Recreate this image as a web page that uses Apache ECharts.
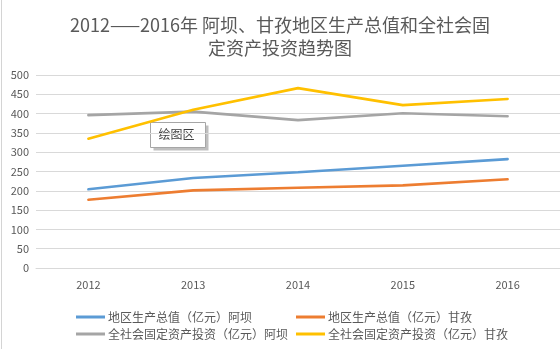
<!DOCTYPE html>
<html><head><meta charset="utf-8">
<script src="https://cdn.jsdelivr.net/npm/echarts@6/dist/echarts.min.js"></script>
<style>html,body{margin:0;padding:0;background:#fff}#c{width:560px;height:349px}</style>
</head><body><div id="c"></div>
<script>
var years = ['2012','2013','2014','2015','2016'];
var gdpAba = [204, 233, 248, 265, 282];
var gdpGanzi = [177, 201, 208, 214, 230];
var invAba = [396, 405, 383, 401, 393];
var invGanzi = [335, 410, 466, 422, 438];
var names = ['地区生产总值（亿元）阿坝','地区生产总值（亿元）甘孜','全社会固定资产投资（亿元）阿坝','全社会固定资产投资（亿元）甘孜'];
var colors = ['#5b9bd5','#ed7d31','#a5a5a5','#ffc000'];
var FONT = '"Noto Sans CJK SC", sans-serif';
var chart = echarts.init(document.getElementById('c'), null, {renderer:'canvas'});
function mk(i, d){
  return {name:names[i], type:'line', data:d, symbol:'none', smooth:false,
    lineStyle:{width:2.6, color:colors[i], cap:'round'}, itemStyle:{color:colors[i]}};
}
var legendCommon = {orient:'vertical', itemWidth:29, itemHeight:3, itemGap:5, icon:'rect',
  textStyle:{color:'#595959', fontSize:12, fontFamily:FONT, padding:[0,0,0,-2]}};
chart.setOption({
  animation:false,
  title:{text:'2012——2016年 阿坝、甘孜地区生产总值和全社会固\n定资产投资趋势图', left:'center', top:9,
    textStyle:{color:'#595959', fontSize:18, fontWeight:'normal', fontFamily:FONT, lineHeight:23}},
  grid:{left:36, right:0, top:75, bottom:81},
  legend:[
    Object.assign({data:[names[0],names[2]], left:71, top:306}, legendCommon),
    Object.assign({data:[names[1],names[3]], left:291, top:306}, legendCommon)
  ],
  xAxis:{type:'category', data:years, boundaryGap:true,
    axisLine:{show:true, lineStyle:{color:'#d9d9d9'}}, axisTick:{show:false},
    axisLabel:{color:'#595959', fontSize:11, margin:11, fontFamily:FONT}},
  yAxis:{type:'value', min:0, max:500, interval:50,
    axisLine:{show:false}, axisTick:{show:false},
    axisLabel:{color:'#595959', fontSize:11, margin:7, fontFamily:FONT},
    splitLine:{lineStyle:{color:'#d9d9d9', width:1}}},
  series:[mk(0,gdpAba), mk(1,gdpGanzi), mk(2,invAba), mk(3,invGanzi)],
  graphic:[
    {type:'line', shape:{x1:1.5,y1:0,x2:1.5,y2:349}, style:{stroke:'#d4d4d4', lineWidth:1}, silent:true},
    {type:'group', left:150, top:122, children:[
      {type:'rect', shape:{x:3,y:3,width:55,height:25}, style:{fill:'#bfbfbf'}},
      {type:'rect', shape:{x:0,y:0,width:55,height:25}, style:{fill:'#ffffff', stroke:'#a6a6a6', lineWidth:1}},
      {type:'text', x:8, y:6, style:{text:'绘图区', fill:'#404040', fontSize:12, fontFamily:FONT}}
    ]}
  ]
});
</script></body></html>
